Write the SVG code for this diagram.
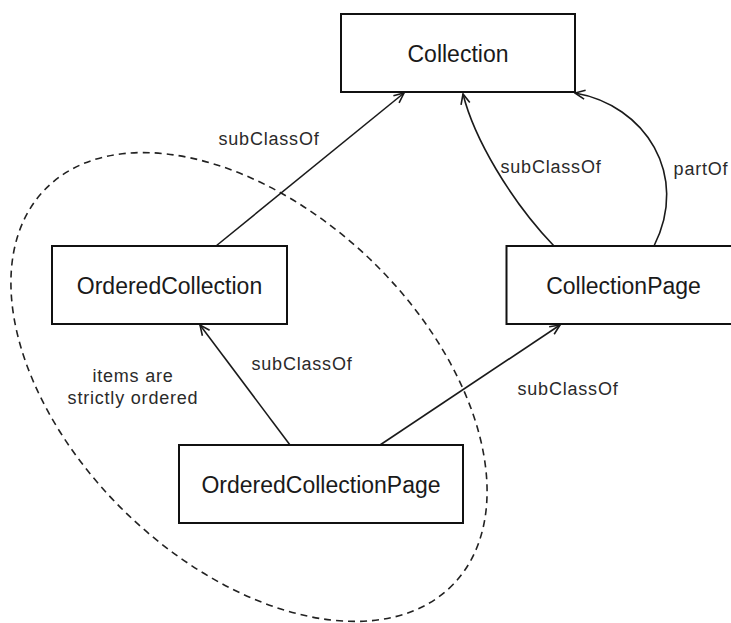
<svg xmlns="http://www.w3.org/2000/svg" width="731" height="623" viewBox="0 0 731 623">
  <style>
    .box { fill: #ffffff; stroke: #111111; stroke-width: 2; }
    .node-label { font-family: "Liberation Sans", Arial, Helvetica, sans-serif; font-size: 23px; fill: #1a1a1a; text-anchor: middle; }
    .edge { fill: none; stroke: #1a1a1a; stroke-width: 1.6; marker-end: url(#open-arrow); }
    .edge-label { font-family: "Liberation Sans", Arial, Helvetica, sans-serif; font-size: 18px; letter-spacing: 0.8px; fill: #2a2a2a; text-anchor: middle; }
    .group-outline { fill: none; stroke: #222222; stroke-width: 1.6; stroke-dasharray: 7 5; }
  </style>
  <defs>
    <marker id="open-arrow" viewBox="0 0 12 12" refX="11" refY="6" markerWidth="12" markerHeight="12" markerUnits="userSpaceOnUse" orient="auto">
      <path d="M1,1.5 L11,6 L1,10.5" fill="none" stroke="#1a1a1a" stroke-width="1.6"/>
    </marker>
  </defs>

  <rect width="731" height="623" fill="#ffffff"/>

  <!-- dashed grouping of the ordered types -->
  <g id="ordered-group">
    <ellipse class="group-outline" cx="249" cy="387" rx="284" ry="176" transform="rotate(44 249 387)"/>
    <text class="edge-label" x="133" y="382">items are</text>
    <text class="edge-label" x="133" y="404">strictly ordered</text>
  </g>

  <!-- connectors -->
  <g id="connectors">
    <path class="edge" d="M216,246 L404,93"/>
    <path class="edge" d="M554,246 C510,200 474,138 463,94"/>
    <path class="edge" d="M654,246 C690,175 645,105 575,93"/>
    <path class="edge" d="M290,445 L200,325"/>
    <path class="edge" d="M380,445 L560,325"/>
    <text class="edge-label" x="269" y="145">subClassOf</text>
    <text class="edge-label" x="551" y="173">subClassOf</text>
    <text class="edge-label" x="701" y="175">partOf</text>
    <text class="edge-label" x="302" y="370">subClassOf</text>
    <text class="edge-label" x="568" y="395">subClassOf</text>
  </g>

  <g id="collection">
    <rect class="box" x="341" y="14" width="234" height="78"/>
    <text class="node-label" x="458" y="61.5">Collection</text>
  </g>

  <g id="ordered-collection">
    <rect class="box" x="52" y="246" width="235" height="78"/>
    <text class="node-label" x="169.5" y="293.5">OrderedCollection</text>
  </g>

  <g id="collection-page">
    <rect class="box" x="506.5" y="246" width="234" height="78"/>
    <text class="node-label" x="623.5" y="293.5">CollectionPage</text>
  </g>

  <g id="ordered-collection-page">
    <rect class="box" x="179" y="445" width="284" height="78"/>
    <text class="node-label" x="321" y="492.5">OrderedCollectionPage</text>
  </g>
</svg>
